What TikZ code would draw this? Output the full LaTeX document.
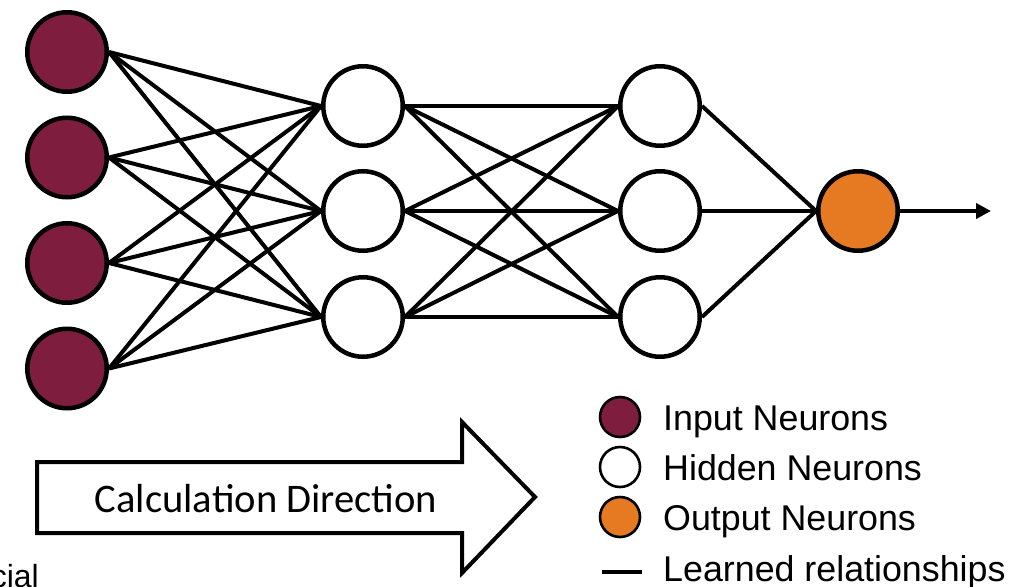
\documentclass[tikz,border=0pt]{standalone}
\usepackage{fontspec}
\setmainfont{Liberation Sans}
\newfontfamily\calibri{Carlito}
\usetikzlibrary{arrows.meta,backgrounds}
\definecolor{inputc}{RGB}{127,29,63}
\definecolor{outputc}{RGB}{230,122,34}
\begin{document}
\begin{tikzpicture}[x=1pt,y=-1pt,
 neuron/.style={circle,draw=black,line width=4.5pt,minimum size=79.5pt,inner sep=0pt},
 inneuron/.style={neuron,fill=inputc},
 hidneuron/.style={neuron,fill=white},
 outneuron/.style={neuron,fill=outputc},
 link/.style={line width=4pt},
 legcircle/.style={circle,draw=black,line width=2.6pt,minimum size=40pt,inner sep=0pt},
 legtext/.style={anchor=base west,inner sep=0pt,font=\fontsize{35.8}{40}\selectfont},
]
\useasboundingbox (0,0) rectangle (1016,586);
\clip (0,0) rectangle (1016,586);

% neurons
\node[inneuron] (i1) at (67,52) {};
\node[inneuron] (i2) at (67,157.5) {};
\node[inneuron] (i3) at (67,263) {};
\node[inneuron] (i4) at (67,368.5) {};
\node[hidneuron] (h1) at (363,106) {};
\node[hidneuron] (h2) at (363,211) {};
\node[hidneuron] (h3) at (363,317) {};
\node[hidneuron] (g1) at (660,106) {};
\node[hidneuron] (g2) at (660,211) {};
\node[hidneuron] (g3) at (660,317) {};
\node[outneuron] (o) at (858,211) {};
\coordinate (oend) at (991,211);

% connections
\begin{scope}[on background layer]
\foreach \i in {1,...,4}
  \foreach \j in {1,2,3}
    \draw[link] (i\i.east) -- (h\j.west);
\foreach \i in {1,2,3}
  \foreach \j in {1,2,3}
    \draw[link] (h\i.east) -- (g\j.west);
\foreach \i in {1,2,3}
  \draw[link] (g\i.east) -- (o.west);
\end{scope}
\draw[link,-{Triangle[length=15pt,width=15pt]}] (o.east) -- (oend);

% calculation direction arrow
\draw[line width=4pt,fill=white,line join=miter]
  (37,462) -- (462,462) -- (462,422) -- (535,497) -- (462,573) -- (462,533) -- (37,533) -- cycle;
\node[anchor=base,inner sep=0pt,font=\calibri\fontsize{40.6}{44}\selectfont] (calc) at (266,512) {Calculation Direction};

% legend
\node[legcircle,fill=inputc] (l1) at (620,417) {};
\node[legcircle,fill=white] (l2) at (620,467) {};
\node[legcircle,fill=outputc] (l3) at (620,517) {};
\coordinate (la) at (602,572);
\coordinate (lb) at (642,572);
\draw[line width=3.5pt] (la) -- (lb);
\node[legtext] (t1) at (663,430) {Input Neurons};
\node[legtext] (t2) at (663,480) {Hidden Neurons};
\node[legtext] (t3) at (663,530) {Output Neurons};
\node[legtext] (t4) at (663,581) {Learned relationships};

% cut-off text
\node[anchor=base east,inner sep=0pt,font=\fontsize{32}{36}\selectfont] (cut) at (39,587) {cial};
\end{tikzpicture}
\end{document}
